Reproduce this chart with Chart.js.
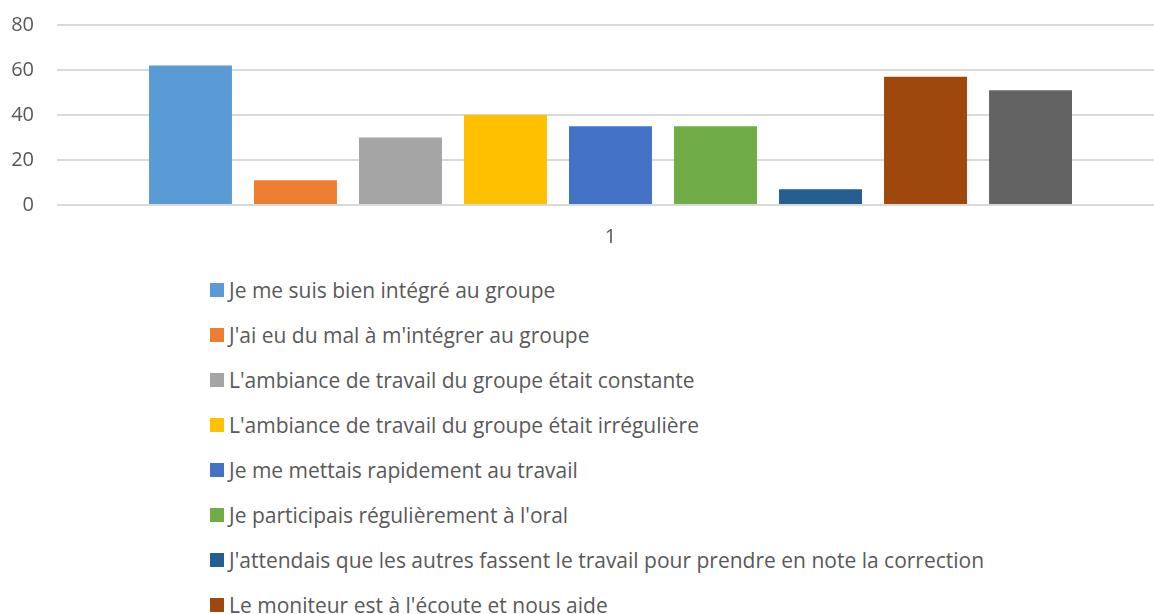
<!DOCTYPE html>
<html>
<head>
<meta charset="utf-8">
<script src="https://cdn.jsdelivr.net/npm/chart.js@4"></script>
<style>
    html, body { margin: 0; padding: 0; background: #fff; overflow: hidden; width: 1154px; height: 614px; }
    #wrap { position: relative; width: 1164px; height: 262px; }
    #legend { position: absolute; left: 210px; top: 267px; margin: 0; padding: 0; list-style: none;
              font-family: "Open Sans", sans-serif; font-size: 21px; color: #595959; }
    #legend li { height: 45px; display: flex; align-items: center; white-space: nowrap; }
    #legend span.box { width: 14px; height: 14px; margin-right: 5px; display: inline-block; }
</style>
</head>
<body>
<div id="wrap"><canvas id="chart-bars"></canvas></div>
<ul id="legend"></ul>
<script>
const categories = ['1'];

const seriesLabels = [
    "Je me suis bien intégré au groupe",
    "J'ai eu du mal à m'intégrer au groupe",
    "L'ambiance de travail du groupe était constante",
    "L'ambiance de travail du groupe était irrégulière",
    "Je me mettais rapidement au travail",
    "Je participais régulièrement à l'oral",
    "J'attendais que les autres fassent le travail pour prendre en note la correction",
    "Le moniteur est à l'écoute et nous aide",
    "Le moniteur n'est pas assez disponible"
];

const seriesValues = [62, 11, 30, 40, 35, 35, 7, 57, 51];

const seriesColors = ['#5B9BD5', '#ED7D31', '#A5A5A5', '#FFC000', '#4472C4', '#70AD47', '#255E91', '#9E480E', '#636363'];

const yTicks = [0, 20, 40, 60, 80];

const textColor = '#595959';
const gridColor = '#D9D9D9';

const datasets = seriesLabels.map((label, i) => ({
    label: label,
    data: [seriesValues[i]],
    backgroundColor: seriesColors[i],
    borderWidth: 0,
    categoryPercentage: 0.8537,
    barPercentage: 0.79
}));

// html legend, one item per line like the original
const htmlLegend = {
    id: 'htmlLegend',
    afterUpdate(chart) {
        const ul = document.getElementById('legend');
        ul.innerHTML = '';
        chart.options.plugins.legend.labels.generateLabels(chart).forEach(item => {
            const li = document.createElement('li');
            const box = document.createElement('span');
            box.className = 'box';
            box.style.background = item.fillStyle;
            li.appendChild(box);
            li.appendChild(document.createTextNode(item.text));
            ul.appendChild(li);
        });
    }
};

const ctx = document.getElementById('chart-bars').getContext('2d');

var chartBars = new Chart(ctx, {
    type: 'bar',
    data: {
        labels: categories,
        datasets: datasets
    },
    options: {
        responsive: true,
        maintainAspectRatio: false,
        animation: false,
        layout: {
            padding: { top: 25, left: 10, right: 0, bottom: 0 }
        },
        plugins: {
            legend: { display: false },
            tooltip: { enabled: false }
        },
        scales: {
            x: {
                afterFit: scale => { scale.height = 57; },
                grid: { display: false, drawTicks: false },
                border: { display: false },
                ticks: {
                    color: textColor,
                    padding: 20,
                    font: { family: 'Open Sans', size: 20 }
                }
            },
            y: {
                min: 0,
                max: 80,
                afterFit: scale => {
                    // tick padding also pads top/bottom, drop that
                    scale.width = 47;
                    scale.paddingTop = 12;
                    scale.paddingBottom = 0;
                },
                afterBuildTicks: axis => { axis.ticks = yTicks.map(v => ({ value: v })); },
                border: { display: false },
                grid: { color: gridColor, lineWidth: 2, drawTicks: false },
                ticks: {
                    color: textColor,
                    padding: 23,
                    font: { family: 'Open Sans', size: 20 }
                }
            }
        }
    },
    plugins: [htmlLegend]
});
</script>
</body>
</html>
